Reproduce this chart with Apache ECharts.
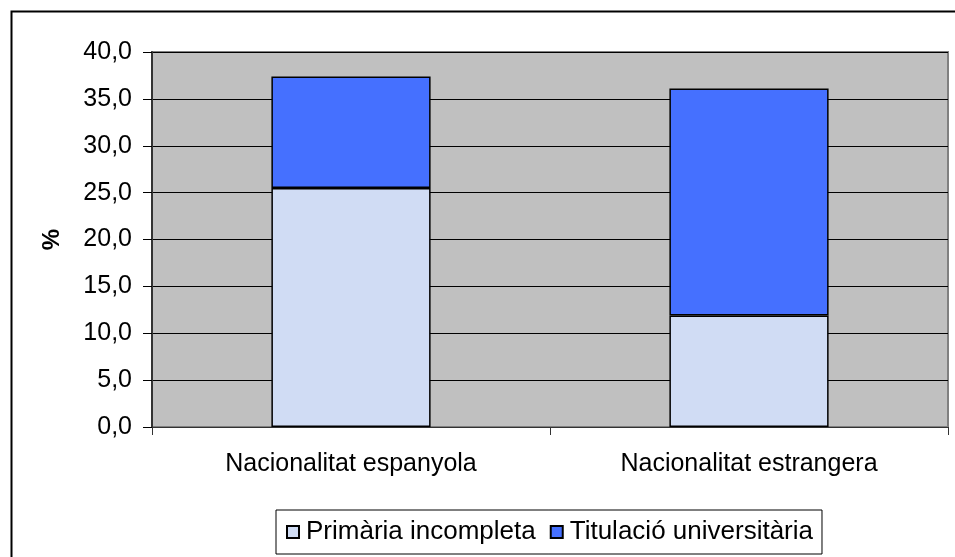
<!DOCTYPE html>
<html>
<head>
<meta charset="utf-8">
<script src="https://cdn.jsdelivr.net/npm/echarts@6/dist/echarts.min.js"></script>
<style>
  html, body { margin: 0; padding: 0; background: #fff; overflow: hidden; }
  #chart { width: 955px; height: 557px; }
</style>
</head>
<body>
<div id="chart"></div>
<script>
var categories = ['Nacionalitat espanyola', 'Nacionalitat estrangera'];
var primaria = [25.5, 11.9];
var titulacio = [11.9, 24.2];
var seriesNames = ['Primària incompleta', 'Titulació universitària'];

var myChart = echarts.init(document.getElementById('chart'));

var option = {
    textStyle: { fontFamily: 'Liberation Sans, Arial, sans-serif' },
    animation: false,
    graphic: [
        {
            // outer chart frame (only top and left edges visible)
            type: 'rect',
            left: 9,
            top: 9,
            shape: { width: 1000, height: 600 },
            style: { fill: null, stroke: '#000', lineWidth: 2 },
            silent: true
        }
    ],
    grid: {
        left: 152,
        right: 7,
        top: 52,
        bottom: 130,
        show: true,
        backgroundColor: '#C0C0C0',
        borderColor: '#808080',
        borderWidth: 2
    },
    legend: {
        left: 276,
        top: 510,
        data: seriesNames,
        borderColor: '#000',
        borderWidth: 1,
        padding: [9, 9, 9, 10],
        itemGap: 14,
        itemWidth: 12,
        itemHeight: 12,
        icon: 'rect',
        textStyle: { fontSize: 26, color: '#000', padding: [0, 0, 0, 2] }
    },
    xAxis: {
        type: 'category',
        data: categories,
        axisLine: { lineStyle: { color: '#333' } },
        axisTick: { show: true, length: 8, lineStyle: { color: '#333' } },
        axisLabel: { fontSize: 25, color: '#000', margin: 25 }
    },
    yAxis: {
        type: 'value',
        min: 0,
        max: 40,
        interval: 5,
        name: '%',
        nameLocation: 'middle',
        nameGap: 88,
        nameRotate: 90,
        nameTextStyle: { fontSize: 24, fontWeight: 'bold', color: '#000' },
        axisLine: { show: true, lineStyle: { color: '#333', width: 2 } },
        axisTick: { show: true, length: 9, lineStyle: { color: '#000' } },
        axisLabel: {
            fontSize: 25,
            color: '#000',
            margin: 20,
            formatter: function (v) { return v.toFixed(1).replace('.', ','); }
        },
        splitLine: { lineStyle: { color: '#000', width: 1 } }
    },
    series: [
        {
            name: seriesNames[0],
            type: 'bar',
            stack: 'total',
            barWidth: '40%',
            itemStyle: { color: '#D0DCF4', borderColor: '#000', borderWidth: 1.5 },
            data: primaria
        },
        {
            name: seriesNames[1],
            type: 'bar',
            stack: 'total',
            itemStyle: { color: '#4570FF', borderColor: '#000', borderWidth: 1.5 },
            data: titulacio
        }
    ]
};

option && myChart.setOption(option);
</script>
</body>
</html>
